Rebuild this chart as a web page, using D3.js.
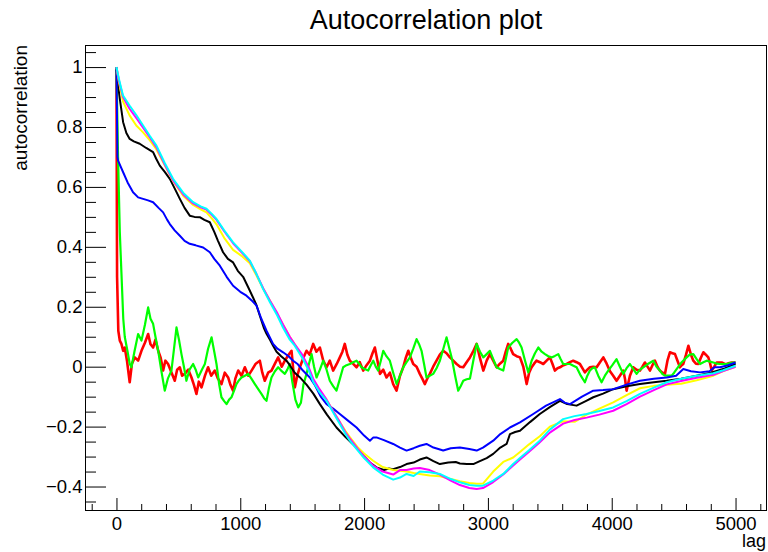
<!DOCTYPE html>
<html><head><meta charset="utf-8">
<script src="https://cdn.jsdelivr.net/npm/d3@7"></script>
<style>
html,body{margin:0;padding:0;background:#fff;}
svg text{font-family:"Liberation Sans",Arial,Helvetica,sans-serif;}
</style>
</head><body>
<svg id="c" width="768" height="552"></svg>
<script>
// ---------------- DATA ----------------
const chartTitle = "Autocorrelation plot";
const xLabel = "lag";
const yLabel = "autocorrelation";
const xMajorTicks = [0, 1000, 2000, 3000, 4000, 5000];
const yMajorTicks = [-0.4, -0.2, 0, 0.2, 0.4, 0.6, 0.8, 1];

const redLag = [0,5,15,27,40,54,67,85,107,125,148,175,202,230,256,275,296,315,337,357,377,395,417,445,471,490,512,530,552,580,606,625,646,665,687,715,740,765,794,820,848,875,902,920,942,960,983,1010,1037,1065,1091,1125,1158,1178,1198,1225,1252,1280,1306,1335,1360,1390,1414,1430,1441,1460,1481,1510,1535,1560,1589,1615,1643,1670,1697,1723,1750,1780,1804,1825,1844,1865,1885,1910,1939,1965,1993,2020,2047,2068,2087,2108,2128,2155,2181,2208,2235,2262,2290,2316,2337,2357,2377,2397,2424,2450,2470,2491,2510,2531,2558,2585,2612,2639,2666,2693,2720,2747,2775,2801,2828,2855,2880,2909,2935,2963,2990,3016,3043,3070,3097,3124,3144,3164,3184,3204,3232,3259,3286,3313,3333,3353,3373,3393,3420,3447,3474,3501,3521,3541,3562,3582,3610,3636,3663,3689,3716,3743,3763,3783,3803,3824,3851,3878,3905,3932,3959,3986,4012,4039,4066,4093,4107,4120,4147,4174,4201,4228,4248,4268,4289,4309,4329,4349,4369,4389,4410,4430,4450,4470,4490,4511,4531,4551,4565,4578,4600,4619,4640,4659,4680,4699,4720,4740,4760,4780,4795,4807,4828,4848,4868,4888,4910,4929,4950,4970,5000];
const redVal = [1.0,0.30,0.12,0.087,0.076,0.053,0.064,0.02,-0.052,0.01,0.031,0.02,0.053,0.08,0.109,0.075,0.064,0.09,0.053,0.03,-0.013,0.02,0.009,-0.02,-0.047,-0.01,-0.002,-0.03,-0.024,-0.01,-0.036,-0.06,-0.091,-0.05,-0.069,-0.03,-0.002,-0.03,-0.013,-0.04,-0.058,-0.02,-0.036,-0.06,-0.08,-0.04,-0.013,-0.03,-0.002,-0.03,-0.013,0.01,0.02,-0.02,-0.047,-0.02,-0.013,0.01,0.031,0.0,0.02,0.04,0.053,-0.02,-0.069,-0.03,-0.002,0.03,0.053,0.04,0.076,0.05,0.064,0.02,-0.002,0.02,-0.013,0.01,0.031,0.05,0.076,0.04,0.02,0.01,-0.002,0.015,-0.013,0.005,0.02,0.045,0.064,0.02,-0.024,-0.01,-0.036,-0.02,-0.058,-0.08,-0.03,-0.002,0.03,0.053,0.03,0.009,0.0,-0.024,-0.04,-0.058,-0.04,-0.024,0.0,0.02,0.04,0.053,0.045,0.031,0.02,0.009,0.0,-0.002,0.015,0.031,0.05,0.076,0.03,-0.013,0.02,0.042,0.02,-0.002,0.01,0.02,0.05,0.076,0.06,0.042,0.035,0.031,0.0,-0.058,-0.02,-0.002,0.01,0.02,0.015,0.009,0.02,0.031,0.01,-0.013,-0.005,-0.002,0.005,0.009,0.015,0.02,0.015,0.009,-0.005,-0.019,-0.01,-0.002,0.0,-0.002,0.015,0.031,0.01,-0.015,-0.03,-0.047,-0.03,-0.013,-0.04,-0.08,-0.03,-0.002,-0.01,-0.013,0.0,0.014,0.0,-0.013,0.005,0.02,0.0,-0.013,-0.02,-0.024,0.02,0.048,0.045,0.042,0.02,-0.002,0.005,0.009,0.04,0.07,0.04,0.02,0.01,0.009,0.03,0.048,0.04,0.031,0.01,-0.013,0.0,0.014,0.014,0.014,0.01,0.009,0.012,0.014,0.014];

const greenLag = [0,13,27,40,55,67,90,107,121,145,175,202,230,256,275,296,315,337,365,390,415,444,465,485,505,525,545,565,590,619,640,660,690,714,740,768,790,808,830,848,870,889,910,929,950,969,990,1010,1037,1064,1090,1118,1145,1171,1192,1212,1232,1252,1280,1306,1335,1360,1380,1400,1420,1445,1468,1490,1510,1535,1555,1576,1596,1616,1643,1670,1697,1723,1750,1777,1805,1831,1858,1885,1912,1939,1960,1979,2005,2033,2054,2074,2094,2114,2135,2155,2180,2208,2235,2262,2290,2316,2343,2370,2397,2424,2444,2464,2484,2504,2530,2558,2585,2612,2640,2666,2686,2707,2735,2760,2780,2801,2828,2855,2882,2909,2936,2963,2990,3016,3043,3070,3097,3124,3144,3164,3198,3232,3252,3272,3300,3326,3353,3380,3407,3434,3461,3488,3514,3541,3568,3588,3608,3636,3663,3690,3716,3750,3783,3803,3824,3844,3864,3891,3918,3945,3972,4005,4039,4066,4093,4120,4147,4174,4201,4228,4255,4295,4336,4362,4389,4410,4430,4457,4484,4504,4524,4565,4605,4630,4659,4686,4713,4740,4767,4794,4821,4848,4875,4902,4929,4956,4983,5000];
const greenVal = [1.0,0.70,0.45,0.315,0.16,0.10,0.05,0.01,-0.002,0.05,0.109,0.087,0.14,0.198,0.16,0.143,0.10,0.053,-0.02,-0.08,-0.04,-0.013,0.06,0.131,0.09,0.042,0.0,-0.047,-0.01,0.009,-0.01,-0.036,-0.01,0.009,0.06,0.098,0.05,0.009,-0.06,-0.102,-0.115,-0.125,-0.11,-0.102,-0.08,-0.058,-0.045,-0.036,-0.03,-0.024,-0.04,-0.058,-0.075,-0.091,-0.105,-0.114,-0.07,-0.036,-0.015,-0.002,-0.015,-0.024,-0.01,0.009,-0.05,-0.11,-0.136,-0.12,-0.06,-0.024,0.01,0.042,0.0,-0.036,-0.01,0.02,-0.01,-0.047,-0.065,-0.08,-0.04,-0.002,0.005,0.009,0.015,0.02,0.01,-0.002,-0.008,-0.013,0.005,0.02,0.0,-0.013,0.02,0.053,0.035,0.02,-0.02,-0.058,-0.03,-0.002,0.015,0.031,0.06,0.092,0.075,0.053,0.01,-0.036,-0.03,-0.024,-0.005,0.02,0.06,0.098,0.065,0.031,-0.03,-0.08,-0.065,-0.047,-0.042,-0.04,0.02,0.076,0.05,0.031,0.042,0.053,0.025,-0.002,-0.008,-0.013,0.025,0.064,0.08,0.092,0.08,0.064,0.02,-0.019,0.02,0.045,0.064,0.05,0.042,0.035,0.031,0.036,0.042,0.025,0.009,0.009,0.009,0.003,-0.002,-0.03,-0.052,-0.03,-0.013,-0.005,-0.002,-0.03,-0.052,-0.03,-0.013,0.005,0.025,0.0,-0.024,-0.005,0.009,-0.008,-0.024,-0.01,-0.002,0.01,0.02,0.0,-0.013,-0.025,-0.03,-0.03,-0.03,-0.02,-0.008,0.015,0.031,0.04,0.042,0.025,0.009,0.015,0.02,0.017,0.014,0.01,0.009,0.009,0.009,0.012,0.014,0.014];

const blackLag = [0,10,27,54,80,107,140,188,240,296,320,350,390,431,470,512,550,592,630,673,710,754,790,820,861,900,942,980,1023,1064,1104,1131,1158,1190,1212,1240,1265,1293,1330,1373,1400,1440,1480,1535,1590,1643,1700,1777,1850,1900,1939,2000,2047,2100,2160,2200,2235,2290,2343,2400,2450,2504,2560,2612,2680,2740,2774,2830,2882,2935,2990,3043,3100,3151,3178,3220,3259,3340,3419,3500,3582,3640,3716,3790,3851,3930,4012,4120,4228,4340,4444,4560,4686,4800,4900,5000];
const blackVal = [1.0,0.95,0.894,0.816,0.78,0.76,0.752,0.744,0.73,0.716,0.695,0.671,0.65,0.627,0.595,0.56,0.53,0.504,0.50,0.499,0.49,0.482,0.45,0.42,0.382,0.36,0.348,0.32,0.30,0.265,0.23,0.205,0.17,0.13,0.11,0.09,0.07,0.05,0.035,0.02,0.005,-0.02,-0.035,-0.06,-0.09,-0.125,-0.16,-0.203,-0.235,-0.255,-0.27,-0.30,-0.32,-0.336,-0.345,-0.34,-0.342,-0.335,-0.325,-0.32,-0.31,-0.303,-0.315,-0.325,-0.32,-0.318,-0.323,-0.325,-0.325,-0.315,-0.305,-0.291,-0.27,-0.258,-0.225,-0.218,-0.214,-0.185,-0.158,-0.135,-0.114,-0.125,-0.13,-0.115,-0.102,-0.09,-0.075,-0.065,-0.058,-0.052,-0.047,-0.04,-0.03,-0.02,-0.008,0.009];

const blueLag = [0,8,13,54,90,134,175,215,255,296,340,377,410,431,470,512,550,592,640,700,754,790,835,890,942,1000,1050,1090,1131,1170,1212,1265,1300,1346,1390,1427,1460,1500,1562,1600,1650,1697,1750,1804,1870,1939,2000,2047,2075,2100,2160,2235,2290,2343,2400,2450,2504,2560,2639,2700,2774,2850,2909,2960,3043,3100,3178,3259,3366,3470,3582,3620,3663,3760,3851,3930,4012,4120,4228,4340,4444,4520,4578,4640,4713,4790,4830,4875,4940,5000];
const blueVal = [1.0,0.70,0.688,0.649,0.615,0.582,0.565,0.56,0.555,0.549,0.53,0.515,0.49,0.476,0.455,0.437,0.42,0.41,0.405,0.398,0.382,0.36,0.337,0.30,0.27,0.25,0.237,0.222,0.204,0.16,0.12,0.076,0.06,0.048,0.035,0.02,0.01,-0.01,-0.036,-0.06,-0.10,-0.125,-0.14,-0.158,-0.18,-0.203,-0.23,-0.247,-0.236,-0.236,-0.245,-0.258,-0.27,-0.28,-0.272,-0.264,-0.258,-0.27,-0.28,-0.272,-0.27,-0.275,-0.28,-0.27,-0.247,-0.225,-0.203,-0.186,-0.158,-0.13,-0.108,-0.12,-0.125,-0.10,-0.08,-0.078,-0.075,-0.06,-0.047,-0.04,-0.036,-0.03,-0.008,-0.015,-0.019,-0.015,-0.002,-0.002,0.005,0.014];

const slowLag = [0,20,53,107,160,215,270,323,390,457,540,619,680,727,770,808,870,942,1010,1077,1130,1185,1240,1300,1346,1400,1440,1500,1550,1589,1640,1697,1760,1804,1850,1885,1950,2000,2073,2150,2235,2290,2343,2400,2450,2530,2612,2700,2774,2850,2909,2960,3043,3124,3204,3259,3330,3419,3500,3608,3700,3797,3900,4012,4120,4228,4340,4444,4560,4686,4821,4900,5000];
const yellowVal = [1.0,0.95,0.885,0.838,0.805,0.782,0.755,0.725,0.672,0.62,0.57,0.54,0.525,0.515,0.495,0.475,0.43,0.39,0.37,0.345,0.305,0.26,0.22,0.175,0.14,0.10,0.075,0.035,-0.005,-0.045,-0.08,-0.11,-0.155,-0.185,-0.215,-0.235,-0.27,-0.29,-0.314,-0.335,-0.345,-0.347,-0.35,-0.355,-0.358,-0.363,-0.366,-0.375,-0.382,-0.388,-0.391,-0.39,-0.35,-0.318,-0.303,-0.285,-0.26,-0.232,-0.2,-0.182,-0.184,-0.16,-0.14,-0.119,-0.095,-0.072,-0.064,-0.06,-0.057,-0.045,-0.03,-0.015,0.0];
const magentaVal = [1.0,0.955,0.90,0.86,0.83,0.798,0.765,0.732,0.675,0.622,0.575,0.545,0.532,0.524,0.507,0.49,0.452,0.412,0.382,0.352,0.31,0.262,0.22,0.178,0.14,0.10,0.075,0.04,0.0,-0.04,-0.075,-0.11,-0.155,-0.185,-0.22,-0.24,-0.275,-0.30,-0.33,-0.35,-0.36,-0.345,-0.345,-0.34,-0.338,-0.345,-0.36,-0.38,-0.395,-0.405,-0.408,-0.405,-0.385,-0.36,-0.33,-0.31,-0.285,-0.252,-0.22,-0.19,-0.178,-0.17,-0.16,-0.147,-0.125,-0.10,-0.078,-0.059,-0.048,-0.037,-0.027,-0.015,0.0];
const cyanVal = [1.0,0.96,0.905,0.871,0.84,0.805,0.77,0.738,0.68,0.627,0.58,0.549,0.535,0.527,0.51,0.493,0.455,0.415,0.385,0.354,0.31,0.259,0.215,0.17,0.13,0.09,0.07,0.03,-0.01,-0.05,-0.085,-0.114,-0.16,-0.191,-0.225,-0.247,-0.28,-0.305,-0.336,-0.36,-0.377,-0.37,-0.358,-0.365,-0.35,-0.352,-0.358,-0.375,-0.386,-0.395,-0.397,-0.397,-0.38,-0.358,-0.325,-0.305,-0.28,-0.247,-0.21,-0.175,-0.165,-0.158,-0.148,-0.136,-0.115,-0.091,-0.07,-0.052,-0.04,-0.03,-0.022,-0.012,0.003];

const seriesList = [
  {name:"red", color:"#ff0000", lag:redLag, val:redVal, w:2.6},
  {name:"green", color:"#00ff00", lag:greenLag, val:greenVal, w:2.2},
  {name:"black", color:"#000000", lag:blackLag, val:blackVal, w:2},
  {name:"blue", color:"#0000ff", lag:blueLag, val:blueVal, w:2},
  {name:"yellow", color:"#ffff00", lag:slowLag, val:yellowVal, w:2},
  {name:"magenta", color:"#ff00ff", lag:slowLag, val:magentaVal, w:2},
  {name:"cyan", color:"#00ffff", lag:slowLag, val:cyanVal, w:2}
];

// ---------------- LAYOUT ----------------
const frame = {l:85.5, r:766.5, t:45.5, b:510.5};
const svg = d3.select("#c");
const x = d3.scaleLinear().domain([-250, 5250]).range([frame.l, frame.r]);
const y = d3.scaleLinear().domain([-0.48, 1.072]).range([frame.b, frame.t]);

svg.append("defs").append("clipPath").attr("id","clip")
  .append("rect").attr("x",frame.l).attr("y",frame.t)
  .attr("width",frame.r-frame.l).attr("height",frame.b-frame.t);

const line = d3.line().x(d=>x(d[0])).y(d=>y(d[1]));
const plot = svg.append("g").attr("clip-path","url(#clip)");
seriesList.forEach(s=>{
  const pts = s.lag.map((l,i)=>[l, s.val[i]]);
  plot.append("path").datum(pts).attr("d",line)
    .attr("fill","none").attr("stroke",s.color).attr("stroke-width",s.w)
    .attr("stroke-linejoin","round");
});

// frame
svg.append("rect").attr("x",frame.l).attr("y",frame.t)
  .attr("width",frame.r-frame.l).attr("height",frame.b-frame.t)
  .attr("fill","none").attr("stroke","#000").attr("stroke-width",1);

const fmt = d3.format("~g");
const xMinor = d3.range(-200, 5201, 200).filter(v=>v%1000!==0);
const yMinor = d3.range(-45, 106, 5).filter(v=>v%20!==0).map(v=>v/100);

// x axis
svg.append("g").attr("transform",`translate(0,${frame.b})`)
  .call(d3.axisBottom(x).tickValues(xMajorTicks).tickSize(-12.5).tickSizeOuter(0).tickPadding(6).tickFormat(fmt));
svg.append("g").attr("transform",`translate(0,${frame.b})`)
  .call(d3.axisBottom(x).tickValues(xMinor).tickSize(-6.5).tickSizeOuter(0).tickFormat(""));
// y axis
svg.append("g").attr("transform",`translate(${frame.l},0)`)
  .call(d3.axisLeft(y).tickValues(yMajorTicks).tickSize(-20.5).tickSizeOuter(0).tickPadding(3).tickFormat(fmt));
svg.append("g").attr("transform",`translate(${frame.l},0)`)
  .call(d3.axisLeft(y).tickValues(yMinor).tickSize(-10.5).tickSizeOuter(0).tickFormat(""));

svg.selectAll(".domain").remove();
svg.selectAll(".tick line").attr("stroke","#000").attr("stroke-width",1);
svg.selectAll(".tick text").attr("font-size",18.5).attr("fill","#000")
  .attr("font-family","'Liberation Sans',Arial,sans-serif");

// title & labels
svg.append("text").attr("x",426).attr("y",29).attr("text-anchor","middle")
  .attr("font-size",27).text(chartTitle);
svg.append("text").attr("x",766).attr("y",547).attr("text-anchor","end")
  .attr("font-size",18).text(xLabel);
svg.append("text").attr("transform","translate(27,45) rotate(-90)")
  .attr("text-anchor","end").attr("font-size",19).text(yLabel);
</script>
</body></html>
